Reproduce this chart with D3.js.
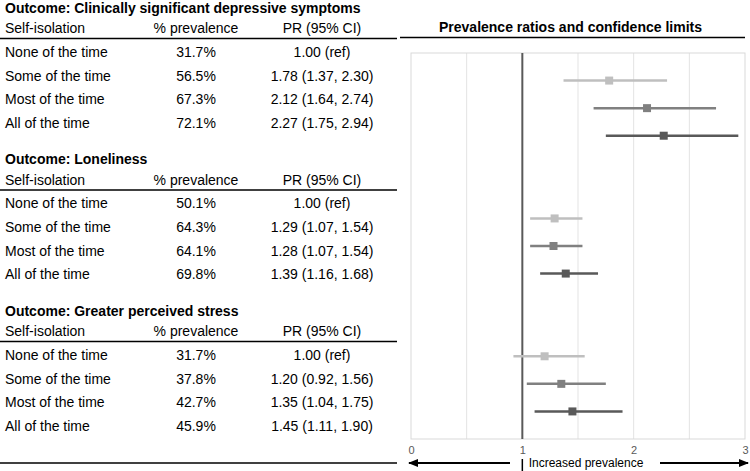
<!DOCTYPE html>
<html>
<head>
<meta charset="utf-8">
<script src="https://cdn.jsdelivr.net/npm/d3@7"></script>
<style>
  html, body { margin: 0; padding: 0; background: #fff; }
  svg { display: block; font-family: "Liberation Sans", Arial, sans-serif; }
</style>
</head>
<body>
<svg id="chart" width="750" height="471"></svg>
<script>
// ---- data ----
const outcomes = [
  "Outcome: Clinically significant depressive symptoms",
  "Outcome: Loneliness",
  "Outcome: Greater perceived stress"
];
const levels = ["None of the time", "Some of the time", "Most of the time", "All of the time"];
const headers = ["Self-isolation", "% prevalence", "PR (95% CI)"];
const prevalence = [
  ["31.7%", "56.5%", "67.3%", "72.1%"],
  ["50.1%", "64.3%", "64.1%", "69.8%"],
  ["31.7%", "37.8%", "42.7%", "45.9%"]
];
const pr = [
  [1.00, 1.78, 2.12, 2.27],
  [1.00, 1.29, 1.28, 1.39],
  [1.00, 1.20, 1.35, 1.45]
];
const lower = [
  [null, 1.37, 1.64, 1.75],
  [null, 1.07, 1.07, 1.16],
  [null, 0.92, 1.04, 1.11]
];
const upper = [
  [null, 2.30, 2.74, 2.94],
  [null, 1.54, 1.54, 1.68],
  [null, 1.56, 1.75, 1.90]
];
const xTicks = [0, 1, 2, 3];
const gridTicks = [0.5, 1.5, 2, 2.5];
const plotTitle = "Prevalence ratios and confidence limits";
const arrowLabel = "Increased prevalence";
const levelColors = ["#ffffff", "#bfbfbf", "#808080", "#595959"];

// ---- layout ----
const svg = d3.select("#chart");
const plot = { left: 411, right: 745, top: 53, bottom: 439 };
const x = d3.scaleLinear().domain([0, 3]).range([plot.left, plot.right]);
const y = d3.scaleLinear().domain([0, 14]).range([plot.top, plot.bottom]);
const sectionOffset = 151.5;
const rowY = [52, 75.7, 99.3, 123];
const colX = [5, 196, 322];
const fmt = d3.format(".2f");

// ---- table ----
outcomes.forEach((title, g) => {
  const off = g * sectionOffset;
  const sec = svg.append("g").attr("transform", `translate(0,${off})`);
  sec.append("text").attr("x", 5).attr("y", 8).attr("dy", "0.35em")
    .attr("font-size", 14).attr("font-weight", "bold").attr("fill", "#000").text(title);
  headers.forEach((h, i) => {
    sec.append("text").attr("x", colX[i]).attr("y", 28.5).attr("dy", "0.35em")
      .attr("text-anchor", i === 0 ? "start" : "middle")
      .attr("font-size", 14).attr("fill", "#000").text(h);
  });
  sec.append("line").attr("x1", 0).attr("x2", 397).attr("y1", 38.5).attr("y2", 38.5)
    .attr("stroke", "#000").attr("stroke-width", 1.5);
  levels.forEach((lv, r) => {
    const yy = rowY[r];
    sec.append("text").attr("x", colX[0]).attr("y", yy).attr("dy", "0.35em")
      .attr("font-size", 14).attr("fill", "#000").text(lv);
    sec.append("text").attr("x", colX[1]).attr("y", yy).attr("dy", "0.35em")
      .attr("text-anchor", "middle").attr("font-size", 14).attr("fill", "#000").text(prevalence[g][r]);
    const prText = lower[g][r] === null ? `${fmt(pr[g][r])} (ref)`
      : `${fmt(pr[g][r])} (${fmt(lower[g][r])}, ${fmt(upper[g][r])})`;
    sec.append("text").attr("x", colX[2]).attr("y", yy).attr("dy", "0.35em")
      .attr("text-anchor", "middle").attr("font-size", 14).attr("fill", "#000").text(prText);
  });
});
// bottom table rule
svg.append("line").attr("x1", 0).attr("x2", 397).attr("y1", 463).attr("y2", 463)
  .attr("stroke", "#000").attr("stroke-width", 1.5);

// ---- plot title ----
svg.append("text").attr("x", (400 + 745) / 2 - 2).attr("y", 27).attr("dy", "0.35em")
  .attr("text-anchor", "middle").attr("font-size", 14).attr("font-weight", "bold")
  .attr("fill", "#000").text(plotTitle);
svg.append("line").attr("x1", 400).attr("x2", 745).attr("y1", 37.5).attr("y2", 37.5)
  .attr("stroke", "#000").attr("stroke-width", 1.5);

// ---- plot frame & grid ----
svg.append("g").selectAll("line").data(gridTicks).join("line")
  .attr("x1", d => x(d)).attr("x2", d => x(d))
  .attr("y1", plot.top).attr("y2", plot.bottom)
  .attr("stroke", "#e3e3e3").attr("stroke-width", 1);
svg.append("rect").attr("x", plot.left).attr("y", plot.top)
  .attr("width", plot.right - plot.left).attr("height", plot.bottom - plot.top)
  .attr("fill", "none").attr("stroke", "#d9d9d9").attr("stroke-width", 1);

// x axis
const xAxis = d3.axisBottom(x).tickValues(xTicks).tickSize(0).tickPadding(6).tickFormat(d3.format("d"));
const ax = svg.append("g").attr("transform", `translate(0,${plot.bottom + 1})`).call(xAxis);
ax.select(".domain").remove();
ax.selectAll("text").attr("font-size", 11).attr("fill", "#595959")
  .attr("font-family", "\"Liberation Sans\", Arial, sans-serif");

// reference line at PR = 1
svg.append("line").attr("x1", x(1)).attr("x2", x(1)).attr("y1", plot.top).attr("y2", plot.bottom)
  .attr("stroke", "#595959").attr("stroke-width", 2);

// ---- error bars & points ----
const pts = [];
outcomes.forEach((o, g) => {
  levels.forEach((lv, r) => {
    if (lower[g][r] !== null) {
      pts.push({ slot: g * 5 + r, pr: pr[g][r], lo: lower[g][r], hi: upper[g][r], c: levelColors[r] });
    }
  });
});
svg.append("g").selectAll("line").data(pts).join("line")
  .attr("x1", d => x(d.lo)).attr("x2", d => x(d.hi))
  .attr("y1", d => y(d.slot)).attr("y2", d => y(d.slot))
  .attr("stroke", d => d.c).attr("stroke-width", 2.5);
const ms = 8;
svg.append("g").selectAll("rect").data(pts).join("rect")
  .attr("x", d => x(d.pr) - ms / 2).attr("y", d => y(d.slot) - ms / 2)
  .attr("width", ms).attr("height", ms).attr("fill", d => d.c);

// ---- bottom arrows ----
const defs = svg.append("defs");
defs.append("marker").attr("id", "ah").attr("viewBox", "0 0 10 8")
  .attr("refX", 9).attr("refY", 4).attr("markerWidth", 10).attr("markerHeight", 8)
  .attr("orient", "auto-start-reverse").attr("markerUnits", "userSpaceOnUse")
  .append("path").attr("d", "M0,0 L10,4 L0,8 Z").attr("fill", "#000");
const arrowY = 463;
svg.append("line").attr("x1", 510).attr("x2", 409).attr("y1", arrowY).attr("y2", arrowY)
  .attr("stroke", "#000").attr("stroke-width", 1.8).attr("marker-end", "url(#ah)");
svg.append("line").attr("x1", 660).attr("x2", 748).attr("y1", arrowY).attr("y2", arrowY)
  .attr("stroke", "#000").attr("stroke-width", 1.8).attr("marker-end", "url(#ah)");
svg.append("line").attr("x1", x(1)).attr("x2", x(1)).attr("y1", arrowY - 4).attr("y2", 471)
  .attr("stroke", "#000").attr("stroke-width", 1.5);
svg.append("text").attr("x", 586).attr("y", arrowY).attr("dy", "0.35em")
  .attr("text-anchor", "middle").attr("font-size", 12).attr("fill", "#000").text(arrowLabel);
</script>
</body>
</html>
